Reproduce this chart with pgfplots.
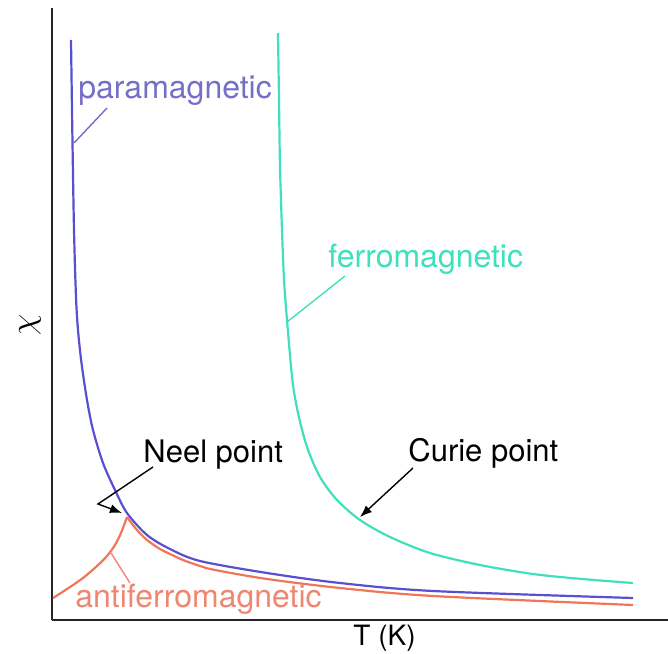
\documentclass[border=0pt]{standalone}
\usepackage{fontspec}
\setmainfont{TeX Gyre Heros}
\usepackage{pgfplots}
\pgfplotsset{compat=1.18}
\usetikzlibrary{arrows.meta}

\definecolor{para}{RGB}{88,80,208}
\definecolor{paratext}{RGB}{118,110,200}
\definecolor{ferro}{RGB}{64,224,190}
\definecolor{anti}{RGB}{240,118,88}
\definecolor{antitext}{RGB}{238,135,112}

\tikzset{
    lbl/.style={inner sep=0pt, anchor=base west, font=\fontsize{16}{18}\selectfont},
    ann/.style={inner sep=0pt, anchor=base west, font=\fontsize{15.5}{18}\selectfont},
}

\begin{document}
\begin{tikzpicture}
\useasboundingbox (-26pt,-16.5pt) rectangle (308pt,310pt);
\begin{axis}[
    at={(0pt,0pt)}, anchor=south west,
    scale only axis,
    width=308pt, height=306pt,
    xmin=0, xmax=616, ymin=0, ymax=612,
    axis lines=left,
    axis line style={-, line width=1.4pt, black!85},
    ticks=none,
    clip=false,
]
% paramagnetic
\addplot[para, line width=1.1pt, smooth] coordinates {
(19,580) (20.5,477) (22,390) (24,323) (26,290) (29.5,257) (35,220)
(41,190) (51,157) (63,130) (75,107) (95,85) (118,71) (148,59) (215,47)
(288,37) (381,29) (581,22)};
% ferromagnetic
\addplot[ferro, line width=1.1pt, smooth] coordinates {
(226,587) (227,520) (228,453) (230,390) (232,340) (235,300) (238,265)
(241,235) (246,207) (255,173) (268,143) (285,120) (308,100) (338,83)
(378,67) (428,55) (481,46) (530,41) (581,37)};
% antiferromagnetic, below and above the Neel point
\addplot[anti, line width=1.1pt, smooth] coordinates {
(1,22) (15,31) (31,42) (45,54) (55,64) (63,75) (69,87) (75,103)};
\addplot[anti, line width=1.1pt, smooth] coordinates {
(75,103) (85,90) (95,80) (108,71) (118,66) (131,60) (148,54) (163,50)
(215,41) (288,32) (381,24) (581,15)};

% labels
\node[lbl, text=paratext] at (axis cs:26,521) {paramagnetic};
\draw[paratext, line width=0.7pt] (axis cs:55,512) -- (axis cs:22,477);
\node[lbl, text=ferro] at (axis cs:276,352) {ferromagnetic};
\draw[ferro, line width=0.7pt] (axis cs:293,344) -- (axis cs:235,298);
\node[lbl, text=antitext] at (axis cs:23,13) {antiferromagnetic};
\draw[antitext, line width=0.7pt] (axis cs:59,67) -- (axis cs:78,37);
\node[ann] at (axis cs:91,158) {Neel point};
\draw[line width=0.7pt, -{Latex[length=6pt,width=4.5pt]}]
    (axis cs:101,153) -- (axis cs:46,116) -- (axis cs:70,107);
\node[ann] at (axis cs:356,159) {Curie point};
\draw[line width=0.7pt, -{Latex[length=6pt,width=4.5pt]}]
    (axis cs:361,152) -- (axis cs:308,103);
\node[inner sep=0pt, anchor=base west, font=\fontsize{14}{16}\selectfont]
    at (axis cs:301,-25) {T (K)};
\node[inner sep=0pt, rotate=90, font=\fontsize{18}{20}\selectfont]
    at (axis cs:-22,295) {$\chi$};
\end{axis}
\end{tikzpicture}
\end{document}
